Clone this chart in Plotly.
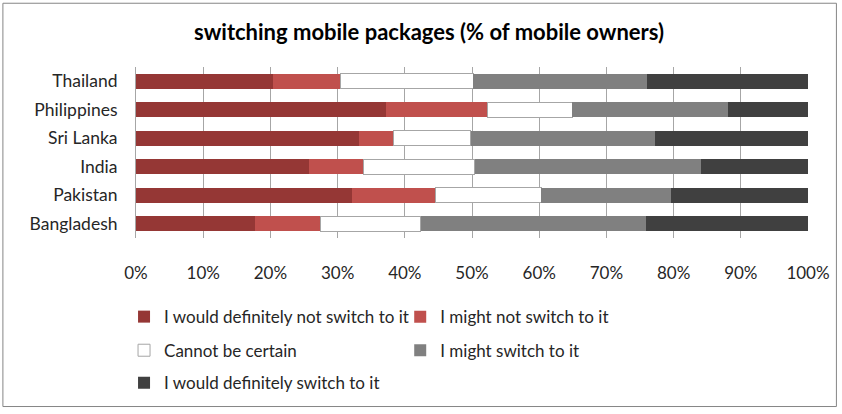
import plotly.graph_objects as go

countries = ["Thailand", "Philippines", "Sri Lanka", "India", "Pakistan", "Bangladesh"]
def_not = [20.4, 37.2, 33.2, 25.8, 32.1, 17.7]
might_not = [10.1, 15.1, 5.1, 8.0, 12.4, 9.8]
uncertain = [19.7, 12.6, 11.5, 16.6, 15.8, 14.9]
might = [25.8, 23.2, 27.5, 33.7, 19.3, 33.5]
definitely = [24.0, 11.9, 22.7, 15.9, 20.4, 24.1]

series_names = [
    "I would definitely not switch to it",
    "I might not switch to it",
    "Cannot be certain",
    "I might switch to it",
    "I would definitely switch to it",
]
series_values = [def_not, might_not, uncertain, might, definitely]
colors = ["#953735", "#C0504D", "#FFFFFF", "#808080", "#404040"]
line_colors = ["#953735", "#C0504D", "#A6A6A6", "#808080", "#404040"]
line_widths = [0, 0, 1, 0, 0]
legends = ["legend", "legend2", "legend3", "legend4", "legend5"]

title_text = "switching mobile packages (% of mobile owners)"
x_ticks = [0, 10, 20, 30, 40, 50, 60, 70, 80, 90, 100]
x_tick_labels = [f"{v}%" for v in x_ticks]

FONT = "Lato"
TXT = "#262626"

fig = go.Figure()
for name, vals, c, lc, lw, lg in zip(series_names, series_values, colors, line_colors, line_widths, legends):
    fig.add_trace(go.Bar(
        y=countries, x=vals, name=name, orientation="h",
        marker=dict(color=c, line=dict(color=lc, width=lw)),
        legend=lg,
    ))

W, H = 842, 414
L, R, T, B = 136, 32, 67, 174
ph = H - T - B

def py(ypix):
    return (H - B - ypix) / ph

def px(xpix):
    return (xpix - L) / (W - L - R)

leg_common = dict(orientation="h", xanchor="left", yanchor="middle",
                  font=dict(family=FONT, size=17, color=TXT),
                  traceorder="normal", bgcolor="rgba(0,0,0,0)", itemwidth=30)

col1, col2 = 124, 401
rows = [320, 354, 387]

fig.update_layout(
    width=W, height=H,
    margin=dict(l=L, r=R, t=T, b=B),
    barmode="stack",
    bargap=0.48,
    paper_bgcolor="white", plot_bgcolor="white",
    font=dict(family=FONT, size=17, color=TXT),
    title=dict(text="<b>" + title_text + "</b>", x=429 / W, xref="container", xanchor="center",
               y=1 - 32 / H, yanchor="middle", yref="container",
               font=dict(family=FONT, size=22, color="#000000")),
    xaxis=dict(range=[0, 100], tickvals=x_ticks, ticktext=x_tick_labels,
               showgrid=True, gridcolor="#A6A6A6", gridwidth=1,
               zeroline=False, showline=False, ticks="",
               ticklabelstandoff=23, fixedrange=True,
               tickfont=dict(family=FONT, size=17, color=TXT)),
    yaxis=dict(autorange="reversed", showgrid=False, zeroline=False,
               showline=True, linecolor="#A6A6A6", linewidth=1,
               ticks="", ticklabelstandoff=14,
               tickfont=dict(family=FONT, size=17.5, color=TXT)),
    legend=dict(x=px(col1), y=py(rows[0]), **leg_common),
    legend2=dict(x=px(col2), y=py(rows[0]), **leg_common),
    legend3=dict(x=px(col1), y=py(rows[1]), **leg_common),
    legend4=dict(x=px(col2), y=py(rows[1]), **leg_common),
    legend5=dict(x=px(col1), y=py(rows[2]), **leg_common),
    showlegend=True,
    shapes=[dict(type="rect", xref="paper", yref="paper",
                 x0=px(2.5), x1=px(838.5), y0=py(410.5), y1=py(2.5),
                 line=dict(color="#868686", width=1), fillcolor="rgba(0,0,0,0)", layer="below")],
)

fig.write_html("out.html", config={"displayModeBar": False},
               post_script="document.body.style.margin='0';")
